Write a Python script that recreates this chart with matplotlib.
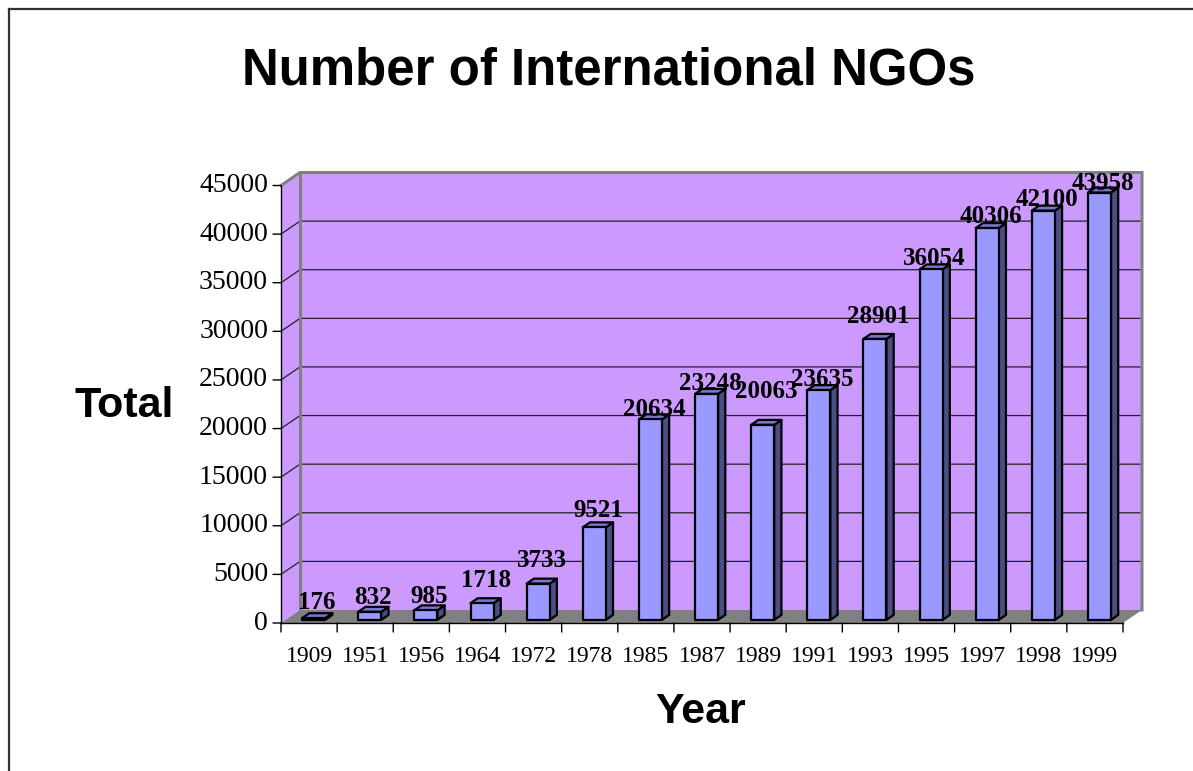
import matplotlib
matplotlib.use('Agg')
import matplotlib.pyplot as plt
from matplotlib.patches import Polygon
from matplotlib.lines import Line2D
from matplotlib.transforms import offset_copy

# ---------------- data ----------------
years = ['1909', '1951', '1956', '1964', '1972', '1978', '1985', '1987',
         '1989', '1991', '1993', '1995', '1997', '1998', '1999']
totals = [176, 832, 985, 1718, 3733, 9521, 20634, 23248, 20063, 23635,
          28901, 36054, 40306, 42100, 43958]
y_ticks = [0, 5000, 10000, 15000, 20000, 25000, 30000, 35000, 40000, 45000]
title = 'Number of International NGOs'
y_title = 'Total'
x_title = 'Year'

# label gap above each bar top, in pixels (layout, as placed in the original)
label_gap_px = [4, 3, 2, 11, 12, 5, -2, -1, 22, -1, 11, -1, 0, 0, -2]

# ---------------- layout (pixels) ----------------
W, H = 1193, 771
L, R, T, B = 281, 1123, 185.5, 623      # front plane of the plot
DXP, DYP = 19, 13                        # depth offset in pixels
YMAX = 45000
n = len(years)

WALL = '#CC99FF'
FLOOR = '#808080'
EDGE = '#808080'
FRONT = '#9999FF'
SIDE = '#4D4D85'
TOP = '#7777CC'

fig = plt.figure(figsize=(W / 100, H / 100), dpi=100)
ax = fig.add_axes([L / W, 1 - B / H, (R - L) / W, (B - T) / H])
ax.set_xlim(-0.5, n - 0.5)
ax.set_ylim(0, YMAX)
ax.axis('off')

DX = DXP * n / (R - L)
DY = DYP * YMAX / (B - T)
x0, x1 = -0.5, n - 0.5

# side wall and back wall
ax.add_patch(Polygon([(x0, 0), (x0 + DX, DY), (x0 + DX, YMAX + DY), (x0, YMAX)],
                     closed=True, facecolor=WALL, edgecolor='none', clip_on=False, zorder=1))
ax.add_patch(Polygon([(x0 + DX, DY), (x1 + DX, DY), (x1 + DX, YMAX + DY), (x0 + DX, YMAX + DY)],
                     closed=True, facecolor=WALL, edgecolor='none', clip_on=False, zorder=1))
# floor
ax.add_patch(Polygon([(x0, 0), (x1, 0), (x1 + DX, DY), (x0 + DX, DY)],
                     closed=True, facecolor=FLOOR, edgecolor='none', clip_on=False, zorder=1))

# gridlines
for v in y_ticks[1:-1]:
    ax.plot([x0, x0 + DX, x1 + DX], [v, v + DY, v + DY], color='#222222', lw=0.9,
            clip_on=False, zorder=2)

# wall borders (gray)
ax.plot([x0, x0 + DX, x1 + DX, x1 + DX], [YMAX, YMAX + DY, YMAX + DY, DY],
        color=EDGE, lw=2.2, clip_on=False, zorder=2, solid_joinstyle='miter')
ax.plot([x0 + DX, x0 + DX], [DY, YMAX + DY], color=EDGE, lw=2.2, clip_on=False, zorder=2)

# axes lines
ax.plot([x0, x0], [0, YMAX], color='black', lw=1.0, clip_on=False, zorder=3)
ax.plot([x0, x1], [0, 0], color='black', lw=1.0, clip_on=False, zorder=3)

# y ticks and labels
ylab_tr = offset_copy(ax.transData, fig=fig, x=-13 * 0.72, y=0, units='points')
for v in y_ticks:
    ax.annotate('', xy=(x0, v), xytext=(-8, 0), textcoords='offset pixels',
                arrowprops=dict(arrowstyle='-', color='black', lw=1.0,
                                shrinkA=0, shrinkB=0), annotation_clip=False)
    ax.text(x0, v, str(v), transform=ylab_tr, ha='right', va='center',
            fontsize=20, family='Liberation Serif', clip_on=False)

# x ticks and labels
for k in range(n + 1):
    ax.annotate('', xy=(x0 + k, 0), xytext=(0, -9), textcoords='offset pixels',
                xycoords='data',
                arrowprops=dict(arrowstyle='-', color='black', lw=1.0,
                                shrinkA=0, shrinkB=0), annotation_clip=False)
xlab_tr = offset_copy(ax.transData, fig=fig, x=0, y=-33 * 0.72, units='points')
for i, yr in enumerate(years):
    ax.text(i, 0, yr, transform=xlab_tr, ha='center', va='center',
            fontsize=17, family='Liberation Serif', clip_on=False)

# bars
BW = 0.41
D0, D1 = 0.24, 0.62
for i, v in enumerate(totals):
    fx0 = i - BW / 2 + DX * D0
    fx1 = i + BW / 2 + DX * D0
    by = DY * D0
    ty = v + DY * D0
    ddx = DX * (D1 - D0)
    ddy = DY * (D1 - D0)
    kw = dict(closed=True, edgecolor='black', lw=1.6, clip_on=False, zorder=5,
              joinstyle='round')
    ax.add_patch(Polygon([(fx1, by), (fx1 + ddx, by + ddy), (fx1 + ddx, ty + ddy), (fx1, ty)],
                         facecolor=SIDE, **kw))
    ax.add_patch(Polygon([(fx0, ty), (fx1, ty), (fx1 + ddx, ty + ddy), (fx0 + ddx, ty + ddy)],
                         facecolor=TOP, **kw))
    ax.add_patch(Polygon([(fx0, by), (fx1, by), (fx1, ty), (fx0, ty)],
                         facecolor=FRONT, **kw))
    lab_tr = offset_copy(ax.transData, fig=fig, x=0, y=label_gap_px[i] * 0.72,
                         units='points')
    ax.text((fx0 + fx1 + ddx) / 2, ty + ddy, str(v), transform=lab_tr,
            ha='center', va='baseline', fontsize=18, fontweight='bold',
            family='Liberation Serif', clip_on=False, zorder=6)

# titles
fig.text(609 / W, 1 - 71 / H, title, ha='center', va='center', fontsize=36.7,
         fontweight='bold', family='Liberation Sans')
fig.text(124 / W, 1 - 406 / H, y_title, ha='center', va='center', fontsize=31,
         fontweight='bold', family='Liberation Sans')
fig.text(701 / W, 1 - 712 / H, x_title, ha='center', va='center', fontsize=31,
         fontweight='bold', family='Liberation Sans')

# outer frame (left and top edges visible)
fig.add_artist(Line2D([8.5 / W, 8.5 / W], [0, 1 - 8.5 / H], transform=fig.transFigure,
                      color='#333333', lw=1.6))
fig.add_artist(Line2D([8.5 / W, 1], [1 - 8.5 / H, 1 - 8.5 / H], transform=fig.transFigure,
                      color='#333333', lw=1.6))

fig.savefig('out.png', dpi=100)
